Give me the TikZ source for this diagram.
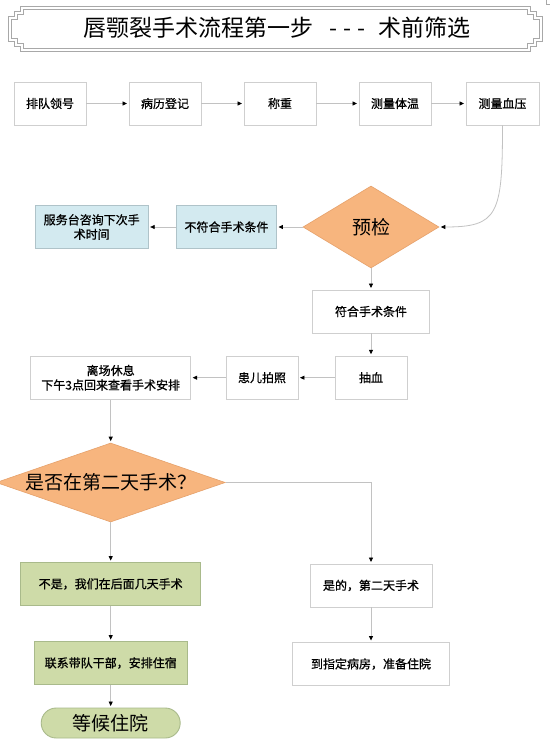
\documentclass[tikz,border=0pt]{standalone}
\usepackage{fontspec}
\newfontfamily\cjk{Noto Sans CJK SC}
\newfontfamily\cjkb[FakeBold=0.8]{Noto Sans CJK SC}
\usetikzlibrary{arrows.meta,shapes.geometric}
\definecolor{edgecol}{HTML}{C2C2C2}
\definecolor{boxline}{HTML}{CFCFCF}
\definecolor{framecol}{HTML}{A8A8A8}
\definecolor{orangefill}{HTML}{F7B57E}
\definecolor{orangeline}{HTML}{E6A16B}
\definecolor{bluefill}{HTML}{D3EAF0}
\definecolor{blueline}{HTML}{AFC3C9}
\definecolor{greenfill}{HTML}{CEDBA8}
\definecolor{greenline}{HTML}{A9BA8B}
\begin{document}
\begin{tikzpicture}[x=1pt,y=-1pt,
  every node/.style={font=\cjkb\fontsize{12}{14.5}\selectfont, inner sep=0pt, text=black},
  box/.style={draw=boxline, line width=0.9pt, fill=white, minimum height=43pt, align=center},
  bluebox/.style={box, fill=bluefill, draw=blueline},
  greenbox/.style={box, fill=greenfill, draw=greenline},
  decision/.style={diamond, fill=orangefill, draw=orangeline, line width=0.6pt,
     font=\cjk\fontsize{19}{19}\selectfont},
  terminal/.style={rectangle, rounded corners=15pt, fill=greenfill, draw=greenline, line width=0.9pt,
     minimum width=139pt, minimum height=30pt, font=\cjk\fontsize{19}{19}\selectfont},
  conn/.style={draw=edgecol, line width=0.8pt, -{Triangle[length=4.5pt,width=4pt,color=black]}, shorten >=1.5pt},
  framepath/.style={draw=framecol, line width=0.6pt}
]
\useasboundingbox (0,0) rectangle (550,743);
\fill[white] (0,0) rectangle (550,743);

% title frame
\draw[framepath] (8,16) -- (14,16) -- (14,11) -- (20,11) -- (20,6) -- (530,6) -- (530,11) -- (536,11) -- (536,16) -- (542,16)
  -- (542,41) -- (536,41) -- (536,46) -- (530,46) -- (530,51) -- (20,51) -- (20,46) -- (14,46) -- (14,41) -- (8,41) -- cycle;
\draw[framepath] (11,19) -- (17,19) -- (17,14) -- (23,14) -- (23,9) -- (527,9) -- (527,14) -- (533,14) -- (533,19) -- (539,19)
  -- (539,38) -- (533,38) -- (533,43) -- (527,43) -- (527,48) -- (23,48) -- (23,43) -- (17,43) -- (17,38) -- (11,38) -- cycle;
\draw[framepath] (546,0) -- (546,4) -- (550,4);
\node[font=\cjk] (title) at (277,28) {\fontsize{23}{23}\selectfont 唇颚裂手术流程第一步\hspace{16pt}-\kern6pt-\kern6pt-\hspace{13pt}术前筛选};

% row 1
\node[box, minimum width=72pt] (n1) at (50,103.5) {排队领号};
\node[box, minimum width=72pt] (n2) at (165,103.5) {病历登记};
\node[box, minimum width=72pt] (n3) at (280,103.5) {称重};
\node[box, minimum width=72pt] (n4) at (395,103.5) {测量体温};
\node[box, minimum width=73pt] (n5) at (502.5,103.5) {测量血压};

% pre-check
\node[decision, aspect=1.66, minimum width=136pt, minimum height=82pt] (yj) at (371,227) {预检};
\node[bluebox, minimum width=100pt] (bf) at (226.5,227) {不符合手术条件};
\node[bluebox, minimum width=113pt] (fw) at (91.7,227) {服务台咨询下次手\\术时间};
\node[box, minimum width=117pt] (fh) at (371,311.5) {符合手术条件};
\node[box, minimum width=72pt] (cx) at (371,377.7) {抽血};
\node[box, minimum width=72pt] (pz) at (262,377.7) {患儿拍照};
\node[box, minimum width=160pt] (lc) at (110.7,377.7) {离场休息\\下午3点回来查看手术安排};

% second decision
\node[decision, aspect=2.9, minimum width=229pt, minimum height=79pt] (sf) at (110.7,482.5) {是否在第二天手术？};
\node[greenbox, minimum width=180pt] (bs) at (110.7,584) {不是，我们在后面几天手术};
\node[box, minimum width=122pt] (ys) at (371,585.5) {是的，第二天手术};
\node[greenbox, minimum width=153pt] (lx) at (110.7,663) {联系带队干部，安排住宿};
\node[box, minimum width=157pt] (dz) at (371,664) {到指定病房，准备住院};
\node[terminal] (dh) at (110.7,723) {等候住院};

% connectors
\draw[conn] (n1) -- (n2);
\draw[conn] (n2) -- (n3);
\draw[conn] (n3) -- (n4);
\draw[conn] (n4) -- (n5);
\draw[conn] (n5.south) .. controls (502.5,215) and (498,227) .. (yj.east);
\draw[conn] (yj.west) -- (bf.east);
\draw[conn] (bf.west) -- (fw.east);
\draw[conn] (yj.south) -- (fh.north);
\draw[conn] (fh.south) -- (cx.north);
\draw[conn] (cx.west) -- (pz.east);
\draw[conn] (pz.west) -- (lc.east);
\draw[conn] (lc.south) -- (sf.north);
\draw[conn] (sf.south) -- (bs.north);
\draw[conn] (sf.east) -| (ys.north);
\draw[conn] (bs.south) -- (lx.north);
\draw[conn] (lx.south) -- (dh.north);
\draw[conn] (ys.south) -- (dz.north);
\end{tikzpicture}
\end{document}
